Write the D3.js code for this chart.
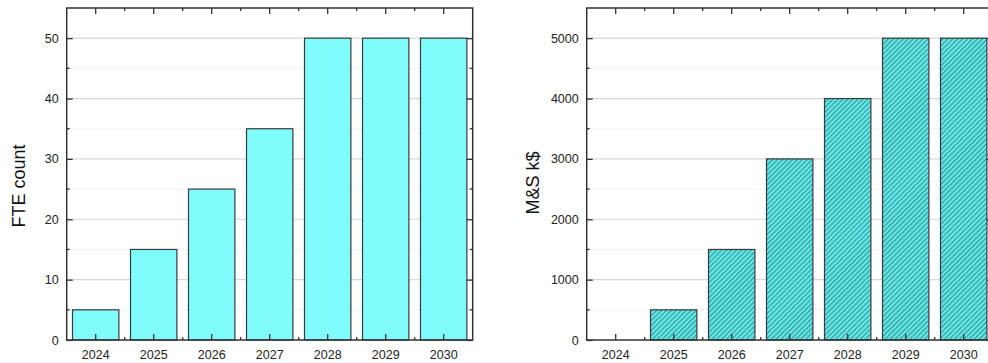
<!DOCTYPE html>
<html>
<head>
<meta charset="utf-8">
<script src="https://d3js.org/d3.v7.min.js"></script>
<style>
  body { margin: 0; background: #fff; }
  svg { font-family: "Liberation Sans", Arial, sans-serif; }
</style>
</head>
<body>
<script>
  // data
  const years = ["2024", "2025", "2026", "2027", "2028", "2029", "2030"];
  const fte = [5, 15, 25, 35, 50, 50, 50];
  const mns = [0, 500, 1500, 3000, 4000, 5000, 5000];
  const fteTicks = [0, 10, 20, 30, 40, 50];
  const mnsTicks = [0, 1000, 2000, 3000, 4000, 5000];

  const svg = d3.select("body").append("svg")
      .attr("width", 988).attr("height", 363);

  // hatch pattern for the second panel
  const defs = svg.append("defs");
  const pat = defs.append("pattern")
      .attr("id", "hatch")
      .attr("patternUnits", "userSpaceOnUse")
      .attr("width", 3.5).attr("height", 3.5)
      .attr("patternTransform", "rotate(45)");
  pat.append("rect").attr("width", 3.5).attr("height", 3.5).attr("fill", "#6ae9e9");
  pat.append("rect").attr("width", 1.3).attr("height", 3.5).attr("fill", "#2f9f9f");

  function panel(opt) {
    const g = svg.append("g").attr("transform", `translate(${opt.left},8)`);
    const width = 406, height = 332;

    const x = d3.scaleBand().domain(years).range([0, width])
        .paddingInner(0.2).paddingOuter(0.1);
    const y = d3.scaleLinear().domain([0, opt.max]).range([height, 0]);
    const minorY = d3.range(opt.minorStep, opt.max, opt.minorStep * 2);

    // grid
    g.append("g").selectAll("line").data(minorY).join("line")
        .attr("x1", 0).attr("x2", width)
        .attr("y1", d => y(d)).attr("y2", d => y(d))
        .attr("stroke", "#e6e6e6").attr("stroke-dasharray", "2,2");
    g.append("g").selectAll("line").data(opt.ticks.slice(1)).join("line")
        .attr("x1", 0).attr("x2", width)
        .attr("y1", d => y(d)).attr("y2", d => y(d))
        .attr("stroke", "#d8d8d8").attr("stroke-width", 1.2);

    // bars
    g.append("g").selectAll("rect").data(opt.values).join("rect")
        .attr("x", (d, i) => x(years[i]))
        .attr("y", d => y(d))
        .attr("width", x.bandwidth())
        .attr("height", d => height - y(d))
        .attr("fill", opt.fill)
        .attr("stroke", "#3a3a3a").attr("stroke-width", 1.2);

    // axes
    const styleAxis = a => {
      a.select(".domain").remove();
      a.selectAll(".tick line").attr("stroke", "#333").attr("stroke-width", 1.3);
      a.selectAll("text").attr("fill", "#222").attr("font-size", 12.5);
    };
    g.append("g").attr("transform", `translate(0,${height})`)
        .call(d3.axisBottom(x).tickSize(-6).tickPadding(10))
        .call(styleAxis);
    g.append("g")
        .call(d3.axisTop(x).tickSize(-6).tickFormat(""))
        .call(styleAxis);
    g.append("g")
        .call(d3.axisLeft(y).tickValues(opt.ticks).tickSize(-6).tickPadding(8)
            .tickFormat(d3.format("d")))
        .call(styleAxis);
    g.append("g").attr("transform", `translate(${width},0)`)
        .call(d3.axisRight(y).tickValues(opt.ticks).tickSize(-6).tickFormat(""))
        .call(styleAxis);

    // minor ticks
    const minorX = years.slice(1).map(c => x(c) + x.bandwidth() / 2 - x.step() / 2);
    const mt = g.append("g").attr("stroke", "#333").attr("stroke-width", 1.3);
    minorX.forEach(v => {
      mt.append("line").attr("x1", v).attr("x2", v).attr("y1", height).attr("y2", height - 3);
      mt.append("line").attr("x1", v).attr("x2", v).attr("y1", 0).attr("y2", 3);
    });
    minorY.forEach(v => {
      mt.append("line").attr("x1", 0).attr("x2", 3).attr("y1", y(v)).attr("y2", y(v));
      mt.append("line").attr("x1", width).attr("x2", width - 3).attr("y1", y(v)).attr("y2", y(v));
    });

    // frame
    g.append("rect").attr("width", width).attr("height", height)
        .attr("fill", "none").attr("stroke", "#333").attr("stroke-width", 1.5);

    // y label
    g.append("text")
        .attr("transform", `translate(${opt.labelX},${opt.labelY}) rotate(-90)`)
        .attr("text-anchor", "middle")
        .attr("font-size", 18).attr("fill", "#111")
        .text(opt.label);
  }

  panel({ left: 66.7, max: 55, minorStep: 5, ticks: fteTicks, values: fte,
          fill: "#7ffcfc", label: "FTE count", labelX: -42, labelY: 178 });
  panel({ left: 586.7, max: 5500, minorStep: 500, ticks: mnsTicks, values: mns,
          fill: "url(#hatch)", label: "M&S k$", labelX: -48, labelY: 175 });
</script>
</body>
</html>
